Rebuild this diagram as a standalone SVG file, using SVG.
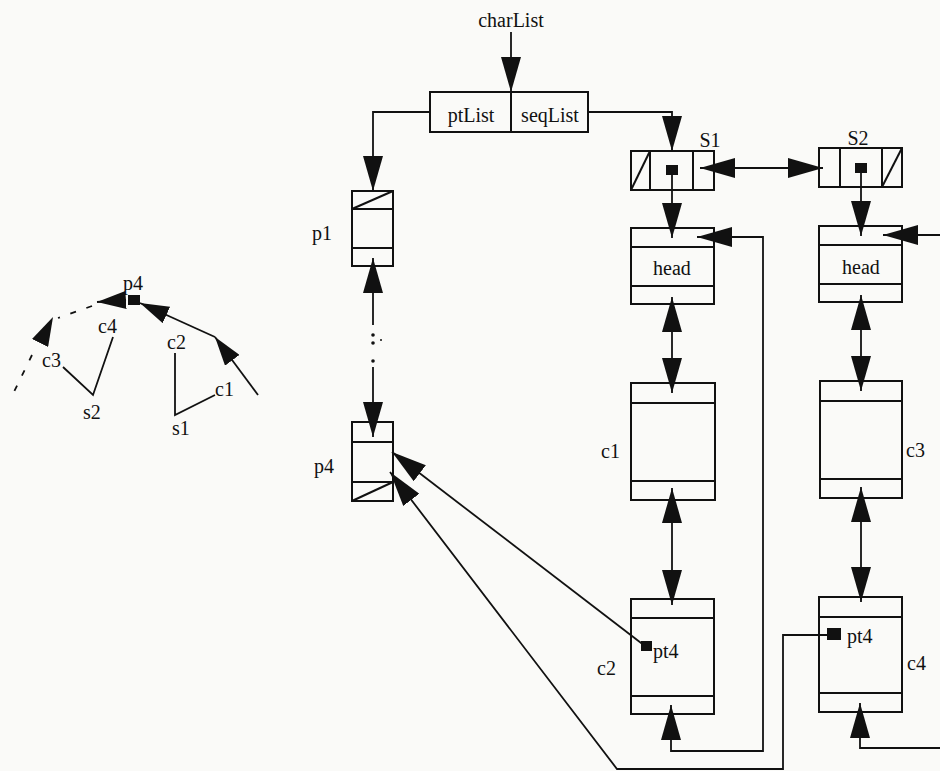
<svg xmlns="http://www.w3.org/2000/svg" width="940" height="771" viewBox="0 0 940 771">
<defs>
<style>
text{font-family:"Liberation Serif","DejaVu Serif",serif;font-size:20px;fill:#111}
.m{text-anchor:middle}
.e{text-anchor:end}
.b{fill:none;stroke:#111;stroke-width:2}
.l{fill:none;stroke:#111;stroke-width:1.8}
.a{marker-end:url(#ah)}
.aa{marker-start:url(#ah);marker-end:url(#ah)}
.s{marker-end:url(#sh)}
.d{fill:none;stroke:#111;stroke-width:1.8;stroke-dasharray:6 11}
.sq{fill:#111}
</style>
<marker id="ah" markerUnits="userSpaceOnUse" markerWidth="36" markerHeight="20" refX="35" refY="10" orient="auto-start-reverse" viewBox="0 0 36 20"><path d="M0,0 L35,10 L0,20 Z" fill="#111"/></marker>
<marker id="sh" markerUnits="userSpaceOnUse" markerWidth="30" markerHeight="18" refX="29" refY="9" orient="auto-start-reverse" viewBox="0 0 30 18"><path d="M0,0 L29,9 L0,18 Z" fill="#111"/></marker>
</defs>
<rect width="940" height="771" fill="#fafaf8"/>

<g id="sketch">
<rect class="sq" x="128" y="295" width="12" height="10"/>
<line class="l s" x1="258" y1="395" x2="215" y2="337"/>
<line class="l s" x1="215" y1="337" x2="140" y2="303"/>
<line class="l s" x1="126" y1="300" x2="97" y2="302"/>
<line class="d" x1="92" y1="306" x2="58" y2="318"/>
<line class="l s" x1="40" y1="343" x2="53" y2="317" stroke-opacity="0"/>
<line class="d" x1="32" y1="355" x2="10" y2="400"/>
<polyline class="l" points="113,337 93,395 63,367"/>
<polyline class="l" points="175,353 175,415 215,395"/>
<text class="m" x="133" y="290">p4</text>
<text x="98" y="333">c4</text>
<text x="42" y="367">c3</text>
<text x="83" y="419">s2</text>
<text x="167" y="349">c2</text>
<text x="215" y="396">c1</text>
<text x="172" y="435">s1</text>
</g>

<g id="charList">
<text class="m" x="511" y="27">charList</text>
<rect class="b" x="430" y="92" width="158" height="40"/>
<line class="b" x1="511" y1="92" x2="511" y2="132"/>
<text class="m" x="471" y="122">ptList</text>
<text class="m" x="550" y="122">seqList</text>
</g>

<g id="p1">
<rect class="b" x="352" y="191" width="41" height="75"/>
<line class="b" x1="352" y1="209" x2="393" y2="209"/>
<line class="b" x1="352" y1="248" x2="393" y2="248"/>
<line class="b" x1="352" y1="209" x2="393" y2="191"/>
<text class="e" x="332" y="240">p1</text>
</g>

<g id="p4">
<rect class="b" x="352" y="422" width="41" height="79"/>
<line class="b" x1="352" y1="442" x2="393" y2="442"/>
<line class="b" x1="352" y1="482" x2="393" y2="482"/>
<line class="b" x1="352" y1="501" x2="393" y2="482"/>
<text class="e" x="334" y="473">p4</text>
</g>

<g id="S1">
<rect class="b" x="631" y="151" width="83" height="39"/>
<line class="b" x1="650" y1="151" x2="650" y2="190"/>
<line class="b" x1="693" y1="151" x2="693" y2="190"/>
<line class="b" x1="631" y1="190" x2="650" y2="151"/>
<rect class="sq" x="666" y="165" width="12" height="10"/>
<text class="m" x="710" y="147">S1</text>
</g>

<g id="S2">
<rect class="b" x="819" y="148" width="83" height="39"/>
<line class="b" x1="840" y1="148" x2="840" y2="187"/>
<line class="b" x1="882" y1="148" x2="882" y2="187"/>
<line class="b" x1="882" y1="187" x2="902" y2="148"/>
<rect class="sq" x="855" y="163" width="12" height="10"/>
<text class="m" x="858" y="145">S2</text>
</g>

<g id="head1">
<rect class="b" x="631" y="228" width="83" height="76"/>
<line class="b" x1="631" y1="247" x2="714" y2="247"/>
<line class="b" x1="631" y1="286" x2="714" y2="286"/>
<text class="m" x="672" y="275">head</text>
</g>

<g id="head2">
<rect class="b" x="819" y="226" width="83" height="76"/>
<line class="b" x1="819" y1="245" x2="902" y2="245"/>
<line class="b" x1="819" y1="284" x2="902" y2="284"/>
<text class="m" x="861" y="274">head</text>
</g>

<g id="c1">
<rect class="b" x="631" y="383" width="84" height="117"/>
<line class="b" x1="631" y1="403" x2="715" y2="403"/>
<line class="b" x1="631" y1="481" x2="715" y2="481"/>
<text class="e" x="620" y="458">c1</text>
</g>

<g id="c3">
<rect class="b" x="820" y="381" width="82" height="117"/>
<line class="b" x1="820" y1="401" x2="902" y2="401"/>
<line class="b" x1="820" y1="479" x2="902" y2="479"/>
<text x="906" y="457">c3</text>
</g>

<g id="c2">
<rect class="b" x="631" y="599" width="83" height="115"/>
<line class="b" x1="631" y1="618" x2="714" y2="618"/>
<line class="b" x1="631" y1="696" x2="714" y2="696"/>
<rect class="sq" x="641" y="641" width="11" height="10"/>
<text x="653" y="658">pt4</text>
<text class="e" x="616" y="675">c2</text>
</g>

<g id="c4">
<rect class="b" x="819" y="597" width="83" height="115"/>
<line class="b" x1="819" y1="617" x2="902" y2="617"/>
<line class="b" x1="819" y1="693" x2="902" y2="693"/>
<rect class="sq" x="827" y="628" width="14" height="12"/>
<text x="847" y="643">pt4</text>
<text x="907" y="670">c4</text>
</g>

<g id="connectors">
<line class="l a" x1="511" y1="32" x2="511" y2="92"/>
<polyline class="l a" points="430,112 373,112 373,191"/>
<polyline class="l a" points="588,112 672,112 672,151"/>
<line class="l aa" x1="700" y1="168" x2="823" y2="168"/>
<line class="l a" x1="672" y1="172" x2="672" y2="238"/>
<line class="l a" x1="861" y1="170" x2="861" y2="236"/>
<line class="l aa" x1="672" y1="297" x2="672" y2="393"/>
<line class="l aa" x1="672" y1="488" x2="672" y2="605"/>
<line class="l aa" x1="861" y1="295" x2="861" y2="391"/>
<line class="l aa" x1="861" y1="487" x2="861" y2="602"/>
<polyline class="l aa" points="697,237 763,237 763,751 671,751 671,705"/>
<line class="l a" x1="940" y1="235" x2="883" y2="235"/>
<polyline class="l a" points="940,748 860,748 860,703"/>
<line class="l a" x1="645" y1="646" x2="392" y2="452"/>
<polyline class="l a" points="827,635 783,635 783,769 617,769 390,472"/>
<line class="l a" x1="373" y1="325" x2="373" y2="258"/>
<line class="l a" x1="373" y1="367" x2="373" y2="437"/>
<circle class="sq" cx="373" cy="335" r="1.8"/>
<circle class="sq" cx="373" cy="343" r="1.8"/>
<circle class="sq" cx="381" cy="340" r="1"/>
<circle class="sq" cx="373" cy="361" r="1.8"/>
</g>
</svg>
